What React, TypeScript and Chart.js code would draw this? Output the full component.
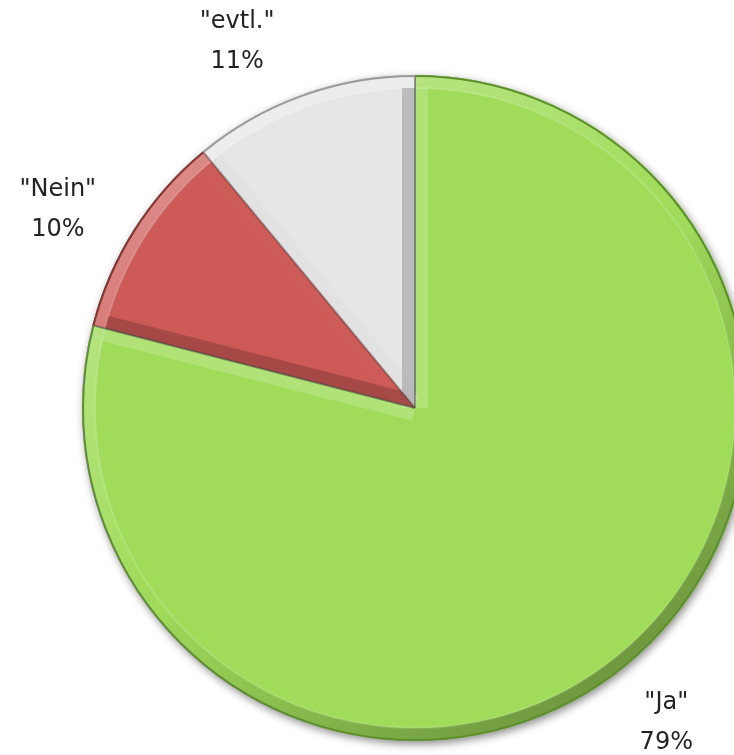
import React, { useEffect, useRef } from "react";
import { Chart, registerables } from "chart.js";

Chart.register(...registerables);

const categories = ['"Ja"', '"Nein"', '"evtl."'];
const values = [79, 10, 11];
const faceColors = ["#A0DC5A", "#CD5A57", "#E6E6E6"];
const edgeColors = ["#5E8F2E", "#8A3432", "#9A9A9A"];

function shade(d: number): string {
  if (d >= 0) return `rgba(255,255,255,${(0.28 * d).toFixed(3)})`;
  return `rgba(0,0,0,${(0.3 * -d).toFixed(3)})`;
}
const LX = -0.6;
const LY = -0.8;

const shadowPlugin = {
  id: "pieShadow",
  beforeDatasetsDraw(chart: any) {
    const arc = chart.getDatasetMeta(0).data[0];
    if (!arc) return;
    const { x, y, outerRadius } = arc.getProps(["x", "y", "outerRadius"], true);
    const ctx = chart.ctx;
    ctx.save();
    ctx.shadowColor = "rgba(0,0,0,0.45)";
    ctx.shadowBlur = 8;
    ctx.shadowOffsetX = 2;
    ctx.shadowOffsetY = 3;
    ctx.beginPath();
    ctx.arc(x, y, outerRadius, 0, Math.PI * 2);
    ctx.fillStyle = "#888";
    ctx.fill();
    ctx.restore();
  },
};

const bevelPlugin = {
  id: "bevel",
  afterDatasetsDraw(chart: any) {
    const meta = chart.getDatasetMeta(0);
    const ctx = chart.ctx;
    const b = 13;
    meta.data.forEach((arc: any, i: number) => {
      const { x, y, startAngle, endAngle, outerRadius: r } = arc.getProps(
        ["x", "y", "startAngle", "endAngle", "outerRadius"],
        true
      );
      ctx.save();
      ctx.beginPath();
      ctx.moveTo(x, y);
      ctx.arc(x, y, r, startAngle, endAngle);
      ctx.closePath();
      ctx.clip();
      const g = ctx.createConicGradient(0, x, y);
      const n = 48;
      for (let k = 0; k <= n; k++) {
        const a = (k / n) * Math.PI * 2;
        const d = LX * Math.cos(a) + LY * Math.sin(a);
        g.addColorStop(k / n, shade(d));
      }
      ctx.beginPath();
      ctx.arc(x, y, r, 0, Math.PI * 2);
      ctx.arc(x, y, r - b, 0, Math.PI * 2, true);
      ctx.fillStyle = g;
      ctx.fill();
      ctx.beginPath();
      ctx.arc(x, y, r - b, 0, Math.PI * 2);
      ctx.strokeStyle = "rgba(255,255,255,0.15)";
      ctx.lineWidth = 2;
      ctx.stroke();
      const edges: [number, number, number][] = [
        [startAngle, Math.sin(startAngle), -Math.cos(startAngle)],
        [endAngle, -Math.sin(endAngle), Math.cos(endAngle)],
      ];
      edges.forEach(([a, nx, ny]) => {
        const d = LX * nx + LY * ny;
        ctx.beginPath();
        ctx.moveTo(x, y);
        ctx.lineTo(x + (r - b) * Math.cos(a), y + (r - b) * Math.sin(a));
        ctx.lineWidth = 2 * b;
        ctx.lineCap = "butt";
        ctx.strokeStyle = shade(d);
        ctx.stroke();
        ctx.beginPath();
        ctx.moveTo(x, y);
        ctx.lineTo(x + r * Math.cos(a), y + r * Math.sin(a));
        ctx.lineWidth = 2;
        ctx.strokeStyle = "rgba(60,60,60,0.5)";
        ctx.stroke();
      });
      ctx.restore();
      ctx.save();
      ctx.beginPath();
      ctx.arc(x, y, r - 1, startAngle, endAngle);
      ctx.strokeStyle = edgeColors[i];
      ctx.lineWidth = 2;
      ctx.stroke();
      ctx.restore();
    });
  },
};

const labelNudges: [number, number][] = [
  [0, -10],
  [-11, 20],
  [-39, 19],
];

const labelPlugin = {
  id: "outLabels",
  afterDraw(chart: any) {
    const meta = chart.getDatasetMeta(0);
    const ctx = chart.ctx;
    const total = values.reduce((s, v) => s + v, 0);
    ctx.save();
    ctx.font = '24px "DejaVu Sans", sans-serif';
    ctx.fillStyle = "#222222";
    ctx.textAlign = "center";
    ctx.textBaseline = "middle";
    meta.data.forEach((arc: any, i: number) => {
      const { x, y, startAngle, endAngle, outerRadius: r } = arc.getProps(
        ["x", "y", "startAngle", "endAngle", "outerRadius"],
        true
      );
      const mid = (startAngle + endAngle) / 2;
      const dist = r + 77;
      const cx = x + dist * Math.cos(mid) + labelNudges[i][0];
      const cy = y + dist * Math.sin(mid) + labelNudges[i][1];
      const pct = Math.round((values[i] / total) * 100) + "%";
      ctx.fillText(categories[i], cx, cy - 19);
      ctx.fillText(pct, cx, cy + 21);
    });
    ctx.restore();
  },
};

export default function App() {
  const ref = useRef<HTMLCanvasElement | null>(null);
  useEffect(() => {
    document.body.style.margin = "0";
    const canvas = ref.current;
    if (!canvas) return;
    const chart = new Chart(canvas, {
      type: "pie",
      data: {
        labels: categories,
        datasets: [
          {
            data: values,
            backgroundColor: faceColors,
            borderWidth: 0,
            hoverOffset: 0,
          },
        ],
      },
      options: {
        responsive: false,
        animation: false,
        devicePixelRatio: 1,
        layout: { padding: { left: 82, right: 82, top: 75, bottom: 14 } },
        plugins: {
          legend: { display: false },
          tooltip: { enabled: false },
        },
        events: [],
      },
      plugins: [shadowPlugin, bevelPlugin, labelPlugin],
    });
    return () => chart.destroy();
  }, []);
  return (
    <div
      style={{
        position: "absolute",
        left: 0,
        top: 0,
        width: 734,
        height: 755,
        overflow: "hidden",
        background: "#fff",
      }}
    >
      <canvas ref={ref} width={830} height={755} style={{ display: "block" }} />
    </div>
  );
}
